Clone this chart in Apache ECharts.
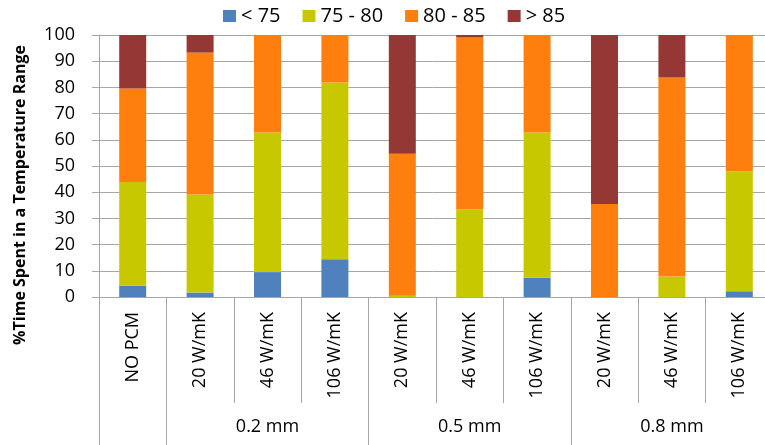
<!DOCTYPE html>
<html>
<head>
<meta charset="utf-8">
<script src="https://cdn.jsdelivr.net/npm/echarts@6/dist/echarts.min.js"></script>
<style>
  html, body { margin: 0; padding: 0; background: #fff; }
  #chart { width: 765px; height: 445px; }
</style>
</head>
<body>
<div id="chart"></div>
<script>
// Conductivity cases along the bottom, grouped by PCM layer thickness
const categories = ['NO PCM', '20 W/mK', '46 W/mK', '106 W/mK', '20 W/mK', '46 W/mK', '106 W/mK', '20 W/mK', '46 W/mK', '106 W/mK'];
const groupNames = ['', '0.2 mm', '0.5 mm', '0.8 mm'];
const groupOf = [0, 1, 1, 1, 2, 2, 2, 3, 3, 3];

// Share of time spent in each temperature band (%)
const seriesNames = ['< 75', '75 - 80', '80 - 85', '> 85'];
const below75 = [4.3, 1.7, 9.5, 14.4, 0, 0, 7.4, 0, 0, 2.2];
const from75to80 = [39.6, 37.4, 53.3, 67.5, 0.5, 33.5, 55.4, 0, 7.8, 45.8];
const from80to85 = [35.7, 54.2, 37.2, 18.1, 54.2, 65.6, 37.2, 35.5, 76.0, 52.0];
const above85 = [20.4, 6.7, 0, 0, 45.3, 0.9, 0, 64.5, 16.2, 0];

const yTicks = { min: 0, max: 100, interval: 10 };
const yTitle = '%Time Spent in a Temperature Range';

const colors = ['#4f81bd', '#c8c800', '#fe7e0e', '#953735'];
const FONT = '"Open Sans", "Noto Sans", sans-serif';
const gridGray = '#a6a6a6';

// the group label sits on the middle member of its group
function groupMiddle(i) {
  const g = groupOf[i];
  const idx = groupOf.map((v, k) => v === g ? k : -1).filter(k => k >= 0);
  return g > 0 && idx[Math.floor(idx.length / 2)] === i;
}
// long separator ticks at the first member of each group
function groupStart(i) {
  return i === 0 || groupOf[i] !== groupOf[i - 1];
}

const chart = echarts.init(document.getElementById('chart'), null, { renderer: 'canvas' });

const valueSets = [below75, from75to80, from80to85, above85];

chart.setOption({
  animation: false,
  color: colors,
  textStyle: { fontFamily: FONT },
  legend: {
    left: 218,
    top: 1,
    itemWidth: 13,
    itemHeight: 12,
    itemGap: 22,
    icon: 'rect',
    textStyle: { fontSize: 20, color: '#000', fontFamily: FONT },
    data: seriesNames
  },
  // the plot runs slightly past the right edge of the canvas
  grid: { left: 99, right: -8, top: 35, bottom: 148, outerBoundsMode: 'none' },
  xAxis: [
    {
      type: 'category',
      data: categories,
      boundaryGap: true,
      axisLine: { show: true, lineStyle: { color: gridGray, width: 1 } },
      axisTick: { show: true, interval: 0, length: 106, lineStyle: { color: gridGray } },
      axisLabel: {
        interval: 0,
        rotate: 90,
        margin: 15,
        fontSize: 18,
        color: '#000',
        fontFamily: FONT
      },
      splitLine: { show: false }
    },
    {
      type: 'category',
      data: categories,
      position: 'bottom',
      boundaryGap: true,
      axisLine: { show: false },
      axisTick: {
        show: true,
        interval: (i) => groupStart(i),
        length: 148,
        lineStyle: { color: gridGray }
      },
      axisLabel: {
        interval: 0,
        margin: 121,
        fontSize: 18,
        color: '#000',
        fontFamily: FONT,
        formatter: (v, i) => groupMiddle(i) ? groupNames[groupOf[i]] : ''
      },
      splitLine: { show: false }
    }
  ],
  yAxis: {
    type: 'value',
    min: yTicks.min,
    max: yTicks.max,
    interval: yTicks.interval,
    axisLine: { show: true, lineStyle: { color: gridGray } },
    axisTick: { show: true, length: 7, lineStyle: { color: gridGray } },
    axisLabel: { fontSize: 18, color: '#000', margin: 24, fontFamily: FONT },
    splitLine: { show: true, lineStyle: { color: gridGray, width: 1 } }
  },
  graphic: [{
    type: 'text',
    x: 20,
    y: 195,
    rotation: Math.PI / 2,
    style: {
      text: yTitle,
      font: 'bold 16px ' + FONT,
      fill: '#000',
      textAlign: 'center',
      textVerticalAlign: 'middle',
      align: 'center',
      verticalAlign: 'middle'
    }
  }],
  series: seriesNames.map((name, k) => ({
    name: name,
    type: 'bar',
    stack: 'share',
    xAxisIndex: 0,
    barWidth: 27,
    data: valueSets[k],
    itemStyle: { color: colors[k] }
  }))
});
</script>
</body>
</html>
